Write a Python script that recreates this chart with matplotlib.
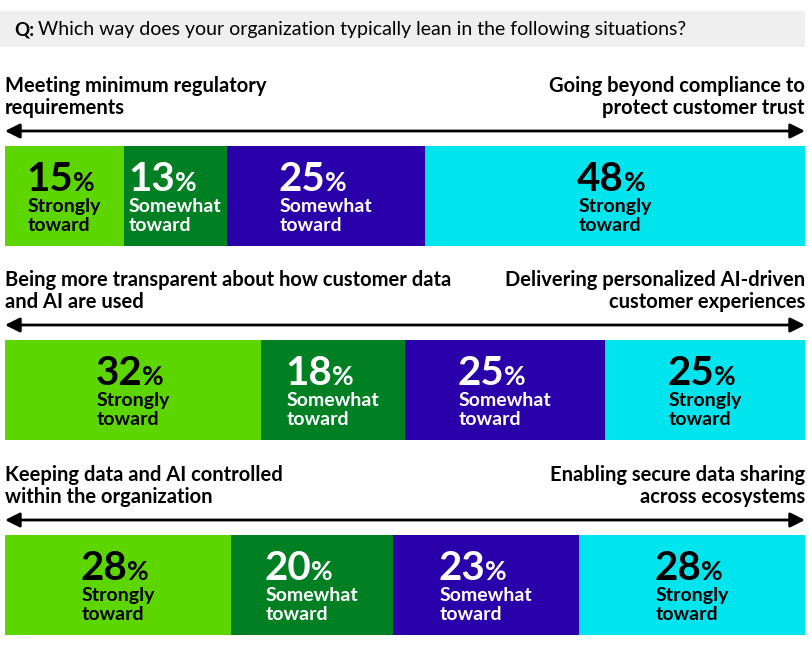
import matplotlib.pyplot as plt
from matplotlib.patches import Rectangle

# data
left_labels = ["Meeting minimum regulatory\nrequirements",
               "Being more transparent about how customer data\nand AI are used",
               "Keeping data and AI controlled\nwithin the organization"]
right_labels = ["Going beyond compliance to\nprotect customer trust",
                "Delivering personalized AI-driven\ncustomer experiences",
                "Enabling secure data sharing\nacross ecosystems"]
values = [[15, 13, 25, 48],
          [32, 18, 25, 25],
          [28, 20, 23, 28]]
seg_labels = ["Strongly\ntoward", "Somewhat\ntoward", "Somewhat\ntoward", "Strongly\ntoward"]
colors = ["#5dd600", "#007f23", "#2a00ab", "#00e4ee"]
txt_colors = ["black", "white", "white", "black"]

W, H = 809, 649
fig = plt.figure(figsize=(W / 100, H / 100), dpi=100)
ax = fig.add_axes([0, 0, 1, 1])
ax.set_xlim(0, W)
ax.set_ylim(H, 0)
ax.axis("off")
plt.rcParams['font.family'] = ['Lato', 'DejaVu Sans']

# header
ax.add_patch(Rectangle((0, 11), 805, 36, color="#efefef", lw=0))
q = ax.text(14, 30, "Q:", fontsize=13.5, fontweight="bold", va="center", ha="left")
fig.canvas.draw()
r = fig.canvas.get_renderer()
bb = q.get_window_extent(r)
ax.text(14 + bb.width + 4, 30, "Which way does your organization typically lean in the following situations?",
        fontsize=14, va="center", ha="left")

x0, x1 = 5, 805
bar_top = [146, 340, 535]
bar_h = 100
pct_items = []

for i in range(3):
    top = bar_top[i]
    ax.text(x0, top - 49, left_labels[i], fontsize=14.5, fontweight="bold", ha="left", va="center",
            linespacing=1.15)
    ax.text(x1, top - 49, right_labels[i], fontsize=14.5, fontweight="bold", ha="right", va="center",
            multialignment="right", linespacing=1.15)
    ax.annotate("", xy=(x0, top - 15), xytext=(x1, top - 15),
                arrowprops=dict(arrowstyle="<|-|>", color="black", lw=2, mutation_scale=22,
                                shrinkA=0, shrinkB=0))
    total = sum(values[i])
    left = x0
    for j, v in enumerate(values[i]):
        w = (x1 - x0) * v / total
        ax.add_patch(Rectangle((left, top), w, bar_h, color=colors[j], lw=0))
        cx = left + w / 2
        lab = ax.text(cx, top + 70, seg_labels[j], fontsize=14, fontweight="bold", ha="center",
                      va="center", multialignment="left", color=txt_colors[j], linespacing=1.2)
        pct_items.append((lab, str(v), txt_colors[j], top))
        left += w

fig.canvas.draw()
inv = ax.transData.inverted()
for lab, num, c, top in pct_items:
    bb = lab.get_window_extent(r)
    lx = inv.transform((bb.x0, bb.y0))[0]
    t = ax.text(lx - 1, top + 45, num, fontsize=29, fontweight="bold", ha="left",
                va="baseline", color=c)
    fig.canvas.draw()
    tb = t.get_window_extent(r)
    px = inv.transform((tb.x1, tb.y0))[0]
    ax.text(px, top + 45, "%", fontsize=19, fontweight="bold", ha="left",
            va="baseline", color=c)

fig.savefig("out.png", dpi=100)
